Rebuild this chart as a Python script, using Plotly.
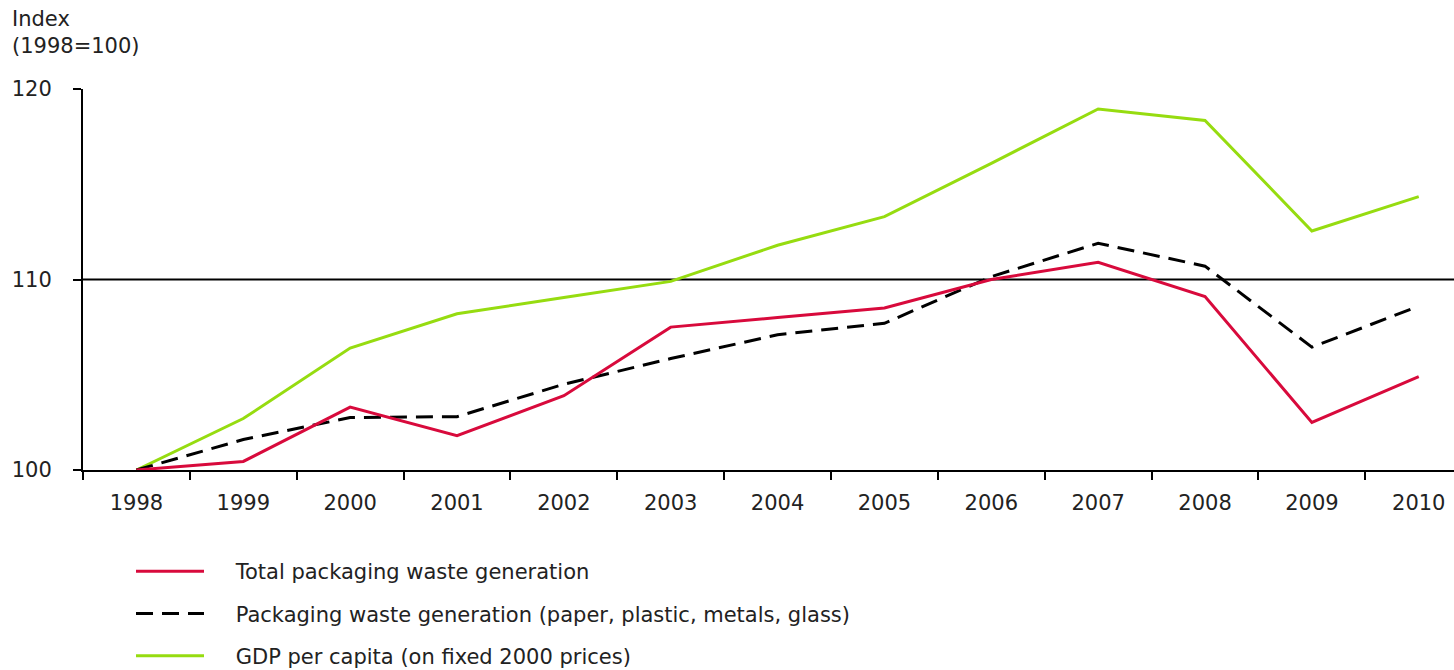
import plotly.graph_objects as go

years = [str(y) for y in range(1998, 2011)]
total_packaging = [100.0, 100.45, 103.3, 101.8, 103.9, 107.5, 108.0, 108.5, 110.0, 110.9, 109.1, 102.5, 104.9]
packaging_main = [100.0, 101.6, 102.75, 102.8, 104.5, 105.85, 107.1, 107.7, 110.15, 111.9, 110.7, 106.45, 108.6]
gdp_per_capita = [100.0, 102.7, 106.4, 108.2, 109.05, 109.9, 111.8, 113.3, 116.1, 118.95, 118.35, 112.55, 114.35]

names = [
    "Total packaging waste generation",
    "Packaging waste generation (paper, plastic, metals, glass)",
    "GDP per capita (on fixed 2000 prices)",
]

FONT = "DejaVu Sans"
RED = "#d80a3c"
GREEN = "#96dc10"
PAD = "\u00a0" * 4

fig = go.Figure()
fig.add_trace(go.Scatter(x=years, y=gdp_per_capita, mode="lines", name=PAD + names[2],
                         line=dict(color=GREEN, width=3), legendgroup="c", legendrank=3))
fig.add_trace(go.Scatter(x=years, y=packaging_main, mode="lines", name=PAD + names[1],
                         line=dict(color="black", width=3, dash="17px,9px"), legendgroup="b", legendrank=2))
fig.add_trace(go.Scatter(x=years, y=total_packaging, mode="lines", name=PAD + names[0],
                         line=dict(color=RED, width=3), legendgroup="a", legendrank=1))

fig.add_hline(y=110, line=dict(color="black", width=2), layer="below")

fig.update_layout(
    width=1454, height=670,
    margin=dict(l=83, r=0, t=89, b=200, autoexpand=False),
    plot_bgcolor="white", paper_bgcolor="white",
    font=dict(family=FONT, size=21, color="#222222"),
    showlegend=True,
    legend=dict(
        xref="container", yref="container",
        x=131 / 1454, y=1 - 551 / 670, xanchor="left", yanchor="top",
        font=dict(family=FONT, size=21, color="#222222"),
        itemwidth=68, tracegroupgap=12, traceorder="grouped",
        bgcolor="rgba(0,0,0,0)", borderwidth=0,
    ),
    xaxis=dict(
        type="category", range=[-0.5, 12.33],
        showline=True, linecolor="black", linewidth=2,
        ticks="outside", tickson="boundaries", ticklen=8, tickwidth=2, tickcolor="black",
        showgrid=False, zeroline=False, tickangle=0,
        tickfont=dict(family=FONT, size=21, color="#222222"),
        ticklabelstandoff=13,
    ),
    yaxis=dict(
        range=[100, 120], tickvals=[100, 110, 120],
        showline=True, linecolor="black", linewidth=2,
        ticks="outside", ticklen=8, tickwidth=2, tickcolor="black",
        showgrid=False, zeroline=False,
        tickfont=dict(family=FONT, size=21, color="#222222"),
        ticklabelstandoff=17,
    ),
    annotations=[dict(
        text="Index<br>(1998=100)", xref="paper", yref="paper",
        x=-73 / 1371, y=1 + 84 / 380, xanchor="left", yanchor="top",
        align="left", showarrow=False,
        font=dict(family=FONT, size=21, color="#222222"),
    )],
)

fig.write_html("out.html", config={"displayModeBar": False},
               post_script="document.body.style.margin='0';document.body.style.overflow='hidden';")
